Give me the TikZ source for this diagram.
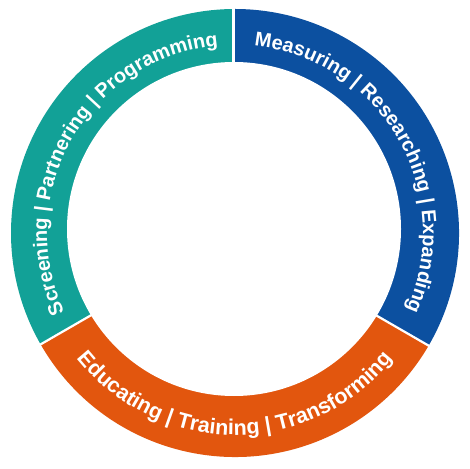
\documentclass[tikz,border=0pt]{standalone}
\usepackage{fontspec}
\setmainfont{Liberation Sans}
\usetikzlibrary{decorations.text,calc}
\definecolor{ringteal}{RGB}{18,161,151}
\definecolor{ringblue}{RGB}{12,80,160}
\definecolor{ringorange}{RGB}{226,86,14}
\tikzset{
  ringtext/.style={decorate, decoration={text along path, text format delimiters={[}{]},
      text align=center, text color=white, text={#1}}},
  gapline/.style={white, line width=2.2pt}
}
\begin{document}
\begin{tikzpicture}[x=1pt,y=1pt]
\fill[white] (0,0) rectangle (470,468);
\useasboundingbox (0,0) rectangle (470,468);
\coordinate (O) at (235,235);
\coordinate (A) at (233.5,235);
\coordinate (I) at (234,239);
% sectors
\fill[ringteal] (A) -- ($(O)+(90:224)$) arc[start angle=90, end angle=210, radius=224] -- cycle;
\fill[ringorange] (A) -- ($(O)+(210:224)$) arc[start angle=210, end angle=330, radius=224] -- cycle;
\fill[ringblue] (A) -- ($(O)+(-30:224)$) arc[start angle=-30, end angle=90, radius=224] -- cycle;
\fill[white] (I) circle[radius=167];
% gaps
\draw[gapline] ($(A)+(90:150)$) -- ($(A)+(90:230)$);
\draw[gapline] ($(A)+(210:150)$) -- ($(A)+(210:230)$);
\draw[gapline] ($(A)+(-30:150)$) -- ($(A)+(-30:230)$);
% texts
\path[ringtext={[\bfseries\fontsize{20}{24}\selectfont]Screening | Partnering | Programming}]
  ($(O)+(225:188)$) arc[start angle=225, end angle=75, radius=188];
\path[ringtext={[\bfseries\fontsize{20}{24}\selectfont]Measuring | Researching | Expanding}]
  ($(O)+(105:188)$) arc[start angle=105, end angle=-45, radius=188];
\path[ringtext={[\bfseries\fontsize{21.5}{25}\selectfont]Educating | Training | Transforming}]
  ($(O)+(195:202)$) arc[start angle=195, end angle=345, radius=202];
\end{tikzpicture}
\end{document}
